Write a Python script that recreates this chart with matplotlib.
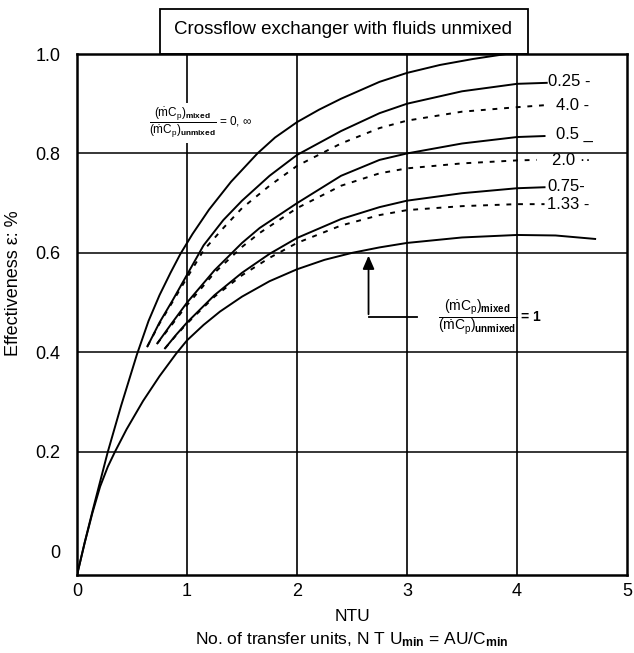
import matplotlib.pyplot as plt
from matplotlib.patches import Rectangle

plt.rcParams['font.family'] = ['Liberation Sans', 'DejaVu Sans']
plt.rcParams['mathtext.fontset'] = 'custom'
plt.rcParams['mathtext.rm'] = 'Liberation Sans'
plt.rcParams['mathtext.it'] = 'Liberation Sans:italic'
plt.rcParams['mathtext.bf'] = 'Liberation Sans:bold'

# effectiveness curves (NTU, effectiveness)
ntu_0inf = [0, 0.07, 0.14, 0.21, 0.28, 0.4, 0.545, 0.65, 0.75, 0.85, 0.94, 1.05, 1.2, 1.4, 1.64,
            1.8, 2.0, 2.2, 2.4, 2.75, 3.0, 3.3, 3.6, 3.9]
eff_0inf = [-0.048, 0.018, 0.08, 0.14, 0.2, 0.292, 0.396, 0.463, 0.515, 0.56, 0.598, 0.638, 0.687,
            0.743, 0.8, 0.832, 0.863, 0.888, 0.91, 0.944, 0.962, 0.978, 0.99, 1.0]

ntu_025 = [0.64, 0.75, 0.87, 1.0, 1.15, 1.33, 1.5, 1.75, 2.0, 2.4, 2.75, 3.0, 3.5, 4.0, 4.27]
eff_025 = [0.412, 0.46, 0.505, 0.556, 0.615, 0.666, 0.705, 0.755, 0.797, 0.845, 0.881, 0.90, 0.925, 0.94, 0.942]

ntu_40 = [0.64, 0.75, 0.87, 1.0, 1.15, 1.33, 1.5, 1.75, 2.0, 2.4, 2.75, 3.0, 3.5, 4.0, 4.25]
eff_40 = [0.412, 0.458, 0.502, 0.55, 0.605, 0.65, 0.69, 0.735, 0.775, 0.82, 0.851, 0.866, 0.884, 0.893, 0.897]

ntu_05 = [0.73, 0.85, 1.0, 1.25, 1.5, 1.66, 2.0, 2.4, 2.75, 3.0, 3.5, 4.0, 4.25]
eff_05 = [0.418, 0.455, 0.50, 0.565, 0.62, 0.65, 0.70, 0.755, 0.787, 0.80, 0.82, 0.833, 0.835]

ntu_20 = [0.73, 0.85, 1.0, 1.25, 1.5, 1.66, 2.0, 2.4, 2.75, 3.0, 3.5, 4.0, 4.18]
eff_20 = [0.418, 0.452, 0.495, 0.56, 0.612, 0.64, 0.69, 0.735, 0.76, 0.77, 0.78, 0.786, 0.787]

ntu_075 = [0.80, 0.9, 1.0, 1.25, 1.5, 1.75, 2.0, 2.4, 2.75, 3.0, 3.5, 4.0, 4.25]
eff_075 = [0.408, 0.435, 0.46, 0.515, 0.56, 0.598, 0.63, 0.668, 0.692, 0.705, 0.72, 0.73, 0.732]

ntu_133 = [0.80, 0.9, 1.0, 1.25, 1.5, 1.75, 2.0, 2.4, 2.75, 3.0, 3.5, 4.0, 4.25]
eff_133 = [0.408, 0.434, 0.458, 0.512, 0.555, 0.59, 0.62, 0.655, 0.676, 0.686, 0.694, 0.698, 0.698]

ntu_1 = [0, 0.07, 0.14, 0.21, 0.28, 0.345, 0.45, 0.6, 0.75, 0.9, 1.0, 1.15, 1.3, 1.5, 1.75, 2.0,
         2.25, 2.5, 2.75, 3.0, 3.5, 4.0, 4.35, 4.71]
eff_1 = [-0.048, 0.017, 0.077, 0.13, 0.17, 0.2, 0.245, 0.302, 0.352, 0.397, 0.424, 0.455, 0.482,
         0.512, 0.543, 0.567, 0.586, 0.6, 0.611, 0.62, 0.631, 0.636, 0.635, 0.628]

ratio_labels = ['0.25 -', '4.0 -', '0.5 _', '2.0 ··', '0.75-', '1.33 -']
label_x = [4.28, 4.35, 4.35, 4.32, 4.28, 4.27]
label_y = [0.944, 0.897, 0.838, 0.785, 0.733, 0.697]

xticks = [0, 1, 2, 3, 4, 5]
yticks = [0, 0.2, 0.4, 0.6, 0.8, 1.0]
ytick_labels = ['0', '0.2', '0.4', '0.6', '0.8', '1.0']

fig = plt.figure(figsize=(6.34, 6.53), dpi=100)
ax = fig.add_axes([0.1215, 0.1194, 0.8675, 0.7979])
ax.set_xlim(0, 5)
ax.set_ylim(-0.048, 1.0)

# grid
for x in xticks[1:-1]:
    ax.axvline(x, color='black', lw=1.2, zorder=1)
for y in yticks[1:-1]:
    ax.axhline(y, color='black', lw=1.1, zorder=1)

lw = 1.4
solid = dict(color='black', lw=lw, zorder=3)
dashed = dict(color='black', lw=lw, ls=(0, (2.5, 3.5)), zorder=3)
ax.plot(ntu_0inf, eff_0inf, **solid)
ax.plot(ntu_025, eff_025, **solid)
ax.plot(ntu_40, eff_40, **dashed)
ax.plot(ntu_05, eff_05, **solid)
ax.plot(ntu_20, eff_20, **dashed)
ax.plot(ntu_075, eff_075, **solid)
ax.plot(ntu_133, eff_133, **dashed)
ax.plot(ntu_1, eff_1, **solid)

for t, x, y in zip(ratio_labels, label_x, label_y):
    ax.text(x, y, t, fontsize=12, ha='left', va='center', zorder=4)

# ratio annotations
frac = (r'\dfrac{(\dot{\mathrm{m}}\mathrm{C}_\mathrm{p})_{\mathbf{mixed}}}'
        r'{(\dot{\mathrm{m}}\mathrm{C}_\mathrm{p})_{\mathbf{unmixed}}}')
ax.text(1.12, 0.861, '$' + frac + r'$ = 0, $\infty$',
        fontsize=8.5, ha='center', va='center', zorder=5,
        bbox=dict(facecolor='white', edgecolor='none', pad=2))
ax.annotate('', xy=(2.65, 0.60), xytext=(2.65, 0.471),
            arrowprops=dict(arrowstyle='-|>,head_length=0.8,head_width=0.35',
                            color='black', lw=1.3), fontsize=10, zorder=4)
ax.plot([2.65, 3.09], [0.471, 0.471], color='black', lw=1.3, zorder=4)
ax.text(3.28, 0.471, '$' + frac + '$ = 1',
        fontsize=10, fontweight='bold', ha='left', va='center', zorder=5)

# title box sitting on the frame
ax.add_patch(Rectangle((0.75, 1.0), 3.35, 0.09, transform=ax.transData,
                       facecolor='white', edgecolor='black', lw=1.3, clip_on=False))
ax.text(2.42, 1.05, 'Crossflow exchanger with fluids unmixed', fontsize=13.5,
        ha='center', va='center')

ax.set_xticks(xticks)
ax.set_xticklabels([str(v) for v in xticks])
ax.set_yticks(yticks)
ax.set_yticklabels(ytick_labels)
ax.tick_params(axis='x', length=0, labelsize=13, pad=6)
ax.tick_params(axis='y', length=0, labelsize=13, pad=12)
for s in ax.spines.values():
    s.set_linewidth(1.8)

ax.set_xlabel('NTU\nNo. of transfer units, N T U$_{\\mathbf{min}}$ = AU/C$_{\\mathbf{min}}$',
              fontsize=12.5, labelpad=6, linespacing=1.5)
ax.set_ylabel('Effectiveness ε: %', fontsize=13)
ax.yaxis.set_label_coords(-0.1, 0.56)

fig.savefig('out.png', dpi=100)
